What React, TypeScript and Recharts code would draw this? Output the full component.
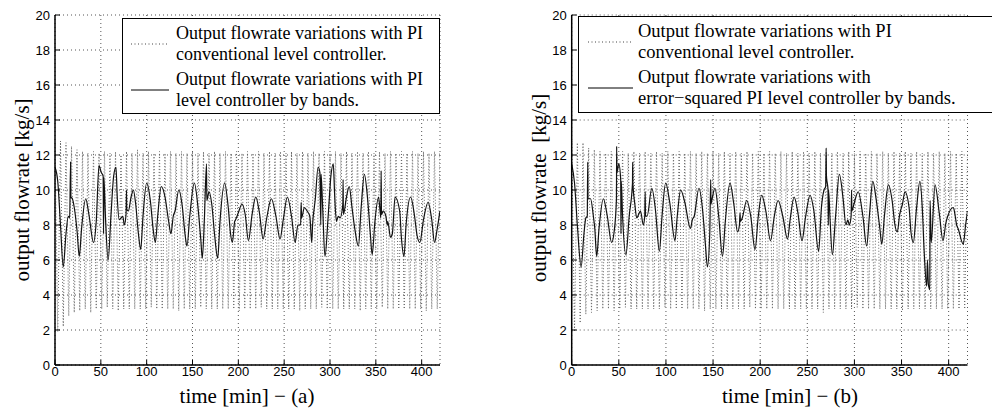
import { CartesianGrid, Line, LineChart, XAxis, YAxis } from 'recharts';

const X_TICKS = [0, 50, 100, 150, 200, 250, 300, 350, 400];
const Y_TICKS = [0, 2, 4, 6, 8, 10, 12, 14, 16, 18, 20];
const DOT_STEP = 3; // minutes between samples of the conventional PI trace

// (a) conventional PI controller, sampled every DOT_STEP minutes from t = 0
const A_CONV = [
  12.6, 1.9, 12.8, 2.2, 12.7, 2.8, 12.5, 3.0, 12.3, 3.1,
  12.2, 3.2, 12.1, 3.0, 12.2, 3.2, 12.1, 3.2, 12.2, 3.3,
  12.1, 3.2, 12.2, 3.1, 12.0, 3.2, 12.2, 3.2, 12.1, 3.2,
  12.3, 3.2, 12.1, 3.2, 12.2, 3.3, 12.1, 3.2, 12.2, 3.2,
  12.1, 3.2, 12.2, 3.2, 12.1, 3.1, 12.2, 3.2, 12.1, 3.2,
  12.2, 3.2, 12.1, 3.3, 12.2, 3.2, 12.1, 3.2, 12.2, 3.2,
  12.1, 3.2, 12.2, 3.2, 12.1, 3.2, 12.2, 3.1, 12.1, 3.2,
  12.2, 3.2, 12.1, 3.2, 12.2, 3.3, 12.1, 3.2, 12.2, 3.2,
  12.1, 3.2, 12.2, 3.2, 12.1, 3.2, 12.2, 3.2, 12.1, 3.1,
  12.2, 3.2, 12.1, 3.2, 12.2, 3.2, 12.1, 3.3, 12.2, 3.2,
  12.1, 3.2, 12.2, 3.2, 12.1, 3.2, 12.2, 3.2, 12.1, 3.2,
  12.2, 3.1, 12.1, 3.2, 12.2, 3.2, 12.1, 3.2, 12.2, 3.3,
  12.1, 3.2, 12.2, 3.2, 12.1, 3.2, 12.2, 3.2, 12.1, 3.2,
  12.2, 3.2, 12.1, 3.2, 12.2, 3.1, 12.1, 3.2, 12.2, 3.2,
  12.1,
];

// (a) PI level controller by bands
const A_BANDS_T = [
  0, 3, 6, 9, 12, 14.5, 16, 17, 17.3, 19, 21, 24, 26.5, 29, 33.5, 37, 42, 45, 48, 50.5,
  52.5, 53, 53.3, 55, 58, 61, 64, 66.5, 68, 70, 72, 74, 75.6, 77.5, 78, 78.3, 80, 83, 85.5, 88,
  91, 93.5, 96, 100, 104, 107, 109.5, 112, 116, 120, 124, 126.5, 129, 131, 135, 139, 142, 144, 147, 152,
  156, 159, 160.7, 163, 165.3, 165.6, 168, 171, 174, 177.5, 180, 185, 189, 191.5, 193.5, 196, 197, 200, 204, 207.5,
  211, 215, 219, 223, 227, 231, 236, 241, 245.5, 249, 253.5, 258, 262, 265, 268, 268.5, 269, 272, 275, 278,
  280, 281, 284, 287, 289, 290, 290.3, 292, 294.5, 298, 301, 303.6, 305, 307, 309, 311, 314, 314.3, 314.6, 318,
  321, 324, 327, 331, 334, 337.5, 341, 344, 346, 349, 353, 355.5, 355.8, 356.2, 358, 361, 362.5, 363, 366, 368,
  371, 376, 378, 380.7, 383, 388, 392, 395, 398, 402, 407, 411, 414, 417, 420,
];
const A_BANDS_V = [
  11.3, 10.5, 8.0, 5.6, 7.5, 8.5, 8.4, 11.6, 9.6, 9.5, 9.0, 7.7, 6.2, 7.8, 9.5, 8.6, 7.0, 8.2, 11.4, 11.0,
  10.8, 7.5, 10.7, 8.5, 6.0, 8.5, 10.8, 11.3, 9.5, 8.3, 8.4, 8.5, 8.0, 8.6, 10.0, 8.9, 8.8, 9.6, 10.0, 9.2,
  7.5, 6.6, 8.5, 10.4, 9.4, 7.8, 7.0, 8.5, 10.2, 9.6, 8.2, 7.5, 8.5, 8.8, 10.0, 9.0, 7.4, 6.8, 8.5, 10.4,
  9.0, 7.2, 6.1, 8.4, 11.5, 9.4, 9.9, 9.2, 7.5, 6.1, 8.2, 10.4, 9.0, 7.5, 7.0, 8.2, 8.3, 8.7, 9.2, 8.6,
  7.1, 8.6, 9.6, 8.7, 7.2, 8.4, 9.5, 8.5, 7.2, 8.3, 9.6, 8.5, 7.0, 8.0, 8.0, 9.3, 8.4, 9.0, 8.8, 8.5,
  7.0, 8.0, 9.5, 11.3, 11.0, 8.0, 10.9, 9.0, 6.2, 8.5, 10.8, 11.5, 9.8, 8.2, 8.5, 8.4, 9.2, 10.6, 8.6, 9.6,
  10.2, 9.0, 7.8, 6.8, 9.0, 10.9, 9.5, 7.5, 6.3, 8.2, 9.6, 8.4, 11.1, 8.6, 8.8, 8.5, 8.0, 8.2, 7.3, 7.5,
  9.6, 8.8, 7.2, 6.2, 8.0, 9.6, 8.6, 7.4, 7.0, 8.3, 9.3, 8.3, 7.0, 7.8, 8.8,
];

// (b) conventional PI controller, sampled every DOT_STEP minutes from t = 0
const B_CONV = [
  12.8, 1.9, 12.7, 2.4, 12.7, 2.9, 12.4, 3.0, 12.3, 3.1,
  12.2, 3.2, 12.1, 3.2, 12.2, 3.1, 12.1, 3.2, 12.2, 3.3,
  12.1, 3.2, 12.2, 3.2, 12.1, 3.2, 12.2, 3.2, 12.1, 3.2,
  12.2, 3.2, 12.1, 3.3, 12.2, 3.2, 12.1, 3.2, 12.2, 3.2,
  12.1, 3.2, 12.2, 3.2, 12.1, 3.2, 12.2, 3.1, 12.1, 3.2,
  12.2, 3.2, 12.1, 3.2, 12.2, 3.2, 12.1, 3.2, 12.2, 3.2,
  12.1, 3.2, 12.2, 3.3, 12.1, 3.2, 12.2, 3.2, 12.1, 3.2,
  12.2, 3.2, 12.1, 3.2, 12.2, 3.2, 12.1, 3.2, 12.2, 3.2,
  12.1, 3.2, 12.2, 3.2, 12.1, 3.2, 12.2, 3.2, 12.1, 3.0,
  12.2, 3.2, 12.1, 3.2, 12.2, 3.2, 12.1, 3.2, 12.2, 3.2,
  12.1, 3.3, 12.2, 3.2, 12.1, 3.2, 12.2, 3.2, 12.1, 3.2,
  12.2, 3.2, 12.1, 3.2, 12.2, 3.2, 12.1, 3.1, 12.2, 3.2,
  12.1, 3.2, 12.2, 3.2, 12.1, 3.2, 12.2, 3.2, 12.1, 3.2,
  12.2, 3.2, 12.1, 3.2, 12.2, 3.2, 12.1, 3.2, 12.2, 3.2,
  12.1,
];

// (b) error-squared PI level controller by bands
const B_BANDS_T = [
  0, 3, 6, 10, 13, 15, 16.5, 17, 17.3, 20, 23, 24.5, 26.5, 29, 33.6, 37.5, 42.4, 45, 47.5, 47.7,
  48, 50, 52, 52.3, 52.6, 54, 57.6, 61, 64.5, 64.7, 65, 67, 69, 71, 73, 76, 77.5, 78, 78.3, 80,
  85, 89, 93, 96, 99.7, 104, 109.6, 112, 115.6, 120, 126, 128, 130, 135, 139, 142, 144, 146.5, 147.5, 147.8,
  149, 152, 156, 160, 163, 168, 172, 176, 178, 178.6, 179, 181, 185.7, 190, 194.5, 198, 201.6, 206, 211, 215,
  219, 224, 229, 232, 236, 240, 244.4, 248, 253, 257, 262, 265, 267.7, 269.5, 270, 270.3, 272, 272.3, 272.6, 274,
  276.6, 280, 284, 288, 291, 293, 294.6, 296.5, 297, 297.3, 300, 304, 309, 313, 316, 319.5, 323, 327, 329, 332,
  336, 340, 343, 345.5, 348, 351, 353.6, 358, 360, 362.5, 366, 369.5, 372, 374, 376.7, 377.5, 378.5, 380, 380.3, 381.5,
  385.5, 390, 394, 397, 399, 405, 407, 408.5, 410, 415.5, 418, 420,
];
const B_BANDS_V = [
  11.5, 10.4, 8.0, 5.6, 7.5, 8.4, 8.5, 11.6, 9.5, 9.5, 8.5, 7.8, 6.2, 7.8, 9.5, 8.6, 7.0, 7.6, 9.5, 12.5,
  11.0, 11.5, 10.6, 7.5, 10.5, 8.5, 6.3, 8.5, 10.4, 11.6, 10.3, 9.2, 8.4, 8.6, 8.8, 8.0, 8.5, 9.9, 8.5, 8.5,
  10.1, 8.8, 6.5, 8.6, 10.4, 9.3, 7.1, 8.5, 10.0, 9.3, 7.8, 8.3, 8.5, 10.1, 8.8, 6.8, 5.6, 7.5, 10.6, 9.2,
  9.5, 10.1, 8.5, 6.2, 8.2, 10.4, 9.2, 7.6, 8.0, 8.7, 8.2, 8.4, 9.4, 8.5, 6.6, 8.5, 9.7, 8.8, 7.1, 8.5,
  9.4, 8.5, 7.2, 8.4, 9.6, 8.7, 7.1, 8.4, 9.7, 8.8, 6.5, 9.0, 10.0, 10.2, 12.4, 10.8, 10.0, 8.0, 10.0, 8.5,
  6.3, 8.5, 10.9, 9.5, 8.0, 8.3, 8.0, 8.5, 10.0, 8.8, 9.3, 9.9, 8.5, 6.8, 8.6, 10.5, 9.5, 7.8, 6.9, 8.6,
  10.3, 9.4, 8.0, 7.6, 8.6, 9.2, 9.9, 9.0, 7.6, 7.0, 9.0, 10.5, 9.0, 6.5, 4.5, 6.0, 4.6, 4.3, 9.4, 7.0,
  10.3, 8.7, 7.1, 8.1, 8.5, 9.0, 8.5, 8.0, 7.8, 6.9, 8.0, 8.8,
];

const LEGEND_A = [
  ['Output flowrate variations with PI', 'conventional level controller.'],
  ['Output flowrate variations with PI', 'level controller by bands.'],
];
const LEGEND_B = [
  ['Output flowrate variations with PI', 'conventional level controller.'],
  ['Output flowrate variations with', 'error\u2212squared PI level controller by bands.'],
];

const SANS = '"Liberation Sans", Arial, Helvetica, sans-serif';
const SERIF = '"Liberation Serif", "Times New Roman", Times, serif';

type Pt = { t: number; v: number };

function toSeries(t: number[], v: number[]): Pt[] {
  return t.map((x, i) => ({ t: x, v: v[i] }));
}

function sampled(v: number[]): Pt[] {
  return v.map((y, i) => ({ t: i * DOT_STEP, v: y }));
}

interface PanelProps {
  left: number;
  width: number;
  margin: { top: number; right: number; bottom: number; left: number };
  conv: Pt[];
  bands: Pt[];
}

function Panel({ left, width, margin, conv, bands }: PanelProps) {
  const tickFont = { fontFamily: SANS, fontSize: 13, fill: '#000' };
  return (
    <div style={{ position: 'absolute', left, top: 0 }}>
      <LineChart width={width} height={409} margin={margin}>
        <CartesianGrid stroke="#555" strokeDasharray="1 3" strokeWidth={1} />
        <XAxis
          dataKey="t"
          type="number"
          domain={[0, 420]}
          ticks={X_TICKS}
          allowDataOverflow
          height={30}
          tick={tickFont}
          tickSize={-5}
          tickMargin={7}
          tickLine={{ stroke: '#000' }}
          axisLine={{ stroke: '#000', strokeWidth: 1.5 }}
        />
        <XAxis
          xAxisId="top"
          orientation="top"
          type="number"
          domain={[0, 420]}
          ticks={X_TICKS}
          height={0}
          tick={false}
          tickSize={-5}
          tickLine={{ stroke: '#000' }}
          axisLine={{ stroke: '#000', strokeWidth: 1.5 }}
        />
        <YAxis
          type="number"
          domain={[0, 20]}
          ticks={Y_TICKS}
          width={40}
          tick={tickFont}
          tickSize={-5}
          tickMargin={10}
          tickLine={{ stroke: '#000' }}
          axisLine={{ stroke: '#000', strokeWidth: 1.5 }}
        />
        <YAxis
          yAxisId="right"
          orientation="right"
          type="number"
          domain={[0, 20]}
          ticks={Y_TICKS}
          width={0}
          tick={false}
          tickSize={-5}
          tickLine={{ stroke: '#000' }}
          axisLine={{ stroke: '#000', strokeWidth: 1.5 }}
        />
        <Line
          data={conv}
          dataKey="v"
          type="linear"
          stroke="#666"
          strokeWidth={1}
          strokeDasharray="1 2"
          dot={false}
          isAnimationActive={false}
        />
        <Line
          data={bands}
          dataKey="v"
          type="monotone"
          stroke="#111"
          strokeWidth={1.2}
          dot={false}
          isAnimationActive={false}
        />
      </LineChart>
    </div>
  );
}

interface LegendProps {
  left: number;
  top: number;
  width: number;
  height: number;
  sampleX: number;
  sampleW: number;
  textX: number;
  fontSize: number;
  entries: string[][];
}

function LegendBox({ left, top, width, height, sampleX, sampleW, textX, fontSize, entries }: LegendProps) {
  const entryTop = [4, 50];
  return (
    <div
      style={{
        position: 'absolute',
        left,
        top,
        width,
        height,
        background: '#fff',
        border: '1.5px solid #000',
        boxSizing: 'border-box',
      }}
    >
      {entries.map((lines, i) => (
        <div key={i}>
          <svg
            width={sampleW}
            height={4}
            style={{ position: 'absolute', left: sampleX, top: entryTop[i] + 19 }}
          >
            <line
              x1={0}
              x2={sampleW}
              y1={2}
              y2={2}
              stroke={i === 0 ? '#444' : '#000'}
              strokeWidth={1}
              strokeDasharray={i === 0 ? '1 2.5' : undefined}
            />
          </svg>
          <div
            style={{
              position: 'absolute',
              left: textX,
              top: entryTop[i],
              fontFamily: SERIF,
              fontSize,
              lineHeight: '21px',
              whiteSpace: 'nowrap',
              color: '#000',
            }}
          >
            {lines.map((l) => (
              <div key={l}>{l}</div>
            ))}
          </div>
        </div>
      ))}
    </div>
  );
}

function AxisTitle({ x, y, text, rotate }: { x: number; y: number; text: string; rotate?: boolean }) {
  return (
    <div
      style={{
        position: 'absolute',
        left: x,
        top: y,
        transform: `translate(-50%, -50%)${rotate ? ' rotate(-90deg)' : ''}`,
        fontFamily: SERIF,
        fontSize: 21,
        whiteSpace: 'pre',
        color: '#000',
      }}
    >
      {text}
    </div>
  );
}

export default function App() {
  const aConv = sampled(A_CONV);
  const aBands = toSeries(A_BANDS_T, A_BANDS_V);
  const bConv = sampled(B_CONV);
  const bBands = toSeries(B_BANDS_T, B_BANDS_V);

  return (
    <div
      style={{
        position: 'absolute',
        left: 0,
        top: 0,
        width: 992,
        height: 409,
        overflow: 'hidden',
        background: '#fff',
      }}
    >
      <Panel
        left={0}
        width={460}
        margin={{ top: 15, right: 20, bottom: 14, left: 15 }}
        conv={aConv}
        bands={aBands}
      />
      <Panel
        left={500}
        width={492}
        margin={{ top: 15, right: 24.5, bottom: 14, left: 31.7 }}
        conv={bConv}
        bands={bBands}
      />
      <LegendBox
        left={122}
        top={18}
        width={318}
        height={96}
        sampleX={8}
        sampleW={38}
        textX={53}
        fontSize={18}
        entries={LEGEND_A}
      />
      <LegendBox
        left={578}
        top={16}
        width={430}
        height={97}
        sampleX={9}
        sampleW={45}
        textX={59}
        fontSize={18.5}
        entries={LEGEND_B}
      />
      <AxisTitle x={22} y={190} text="output flowrate [kg/s]" rotate />
      <AxisTitle x={539} y={188} text="output flowrate  [kg/s]" rotate />
      <AxisTitle x={247} y={396} text={'time [min] \u2212 (a)'} />
      <AxisTitle x={790} y={396} text={'time [min] \u2212 (b)'} />
    </div>
  );
}
